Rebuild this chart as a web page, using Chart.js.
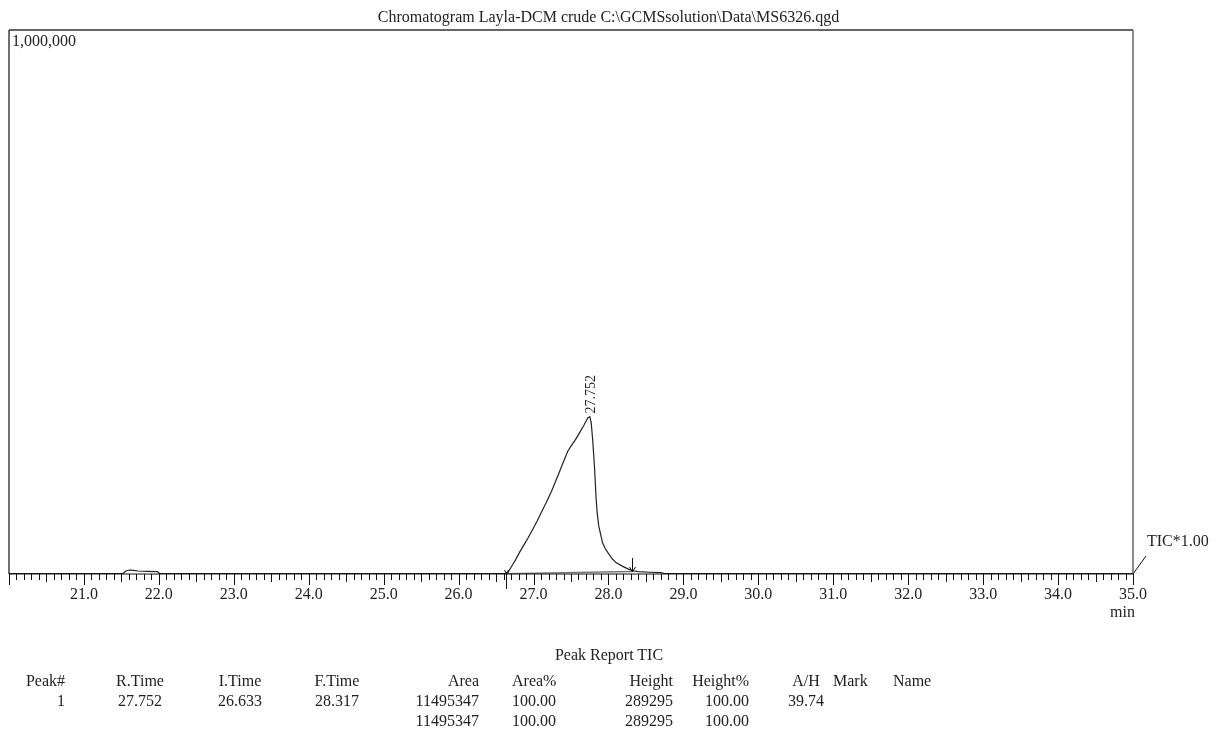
<!DOCTYPE html>
<html>
<head>
<meta charset="utf-8">
<script src="https://cdn.jsdelivr.net/npm/chart.js@4.4.1/dist/chart.umd.min.js"></script>
<style>
  body { margin: 0; background: #fff; font-family: "Liberation Serif", "Times New Roman", serif; color: #222; }
  #wrap { position: relative; width: 1217px; height: 731px; }
  #title { position: absolute; top: 8px; left: 0; width: 1217px; text-align: center; font-size: 16px; line-height: 18px; }
  .cell { position: absolute; font-size: 16px; line-height: 18px; white-space: nowrap; }
</style>
</head>
<body>
<div id="wrap">
  <canvas id="chrom"></canvas>
  <div id="title">Chromatogram Layla-DCM crude C:\GCMSsolution\Data\MS6326.qgd</div>
  <div id="report"></div>
</div>
<script>
// retention time (min) and TIC intensity
const times = [20.0, 21.0, 21.52, 21.56, 21.61, 21.66, 21.72, 21.85, 21.98, 22.01, 23.0, 24.0, 25.0, 26.0, 26.5, 26.633,
  26.66, 26.72, 26.76, 26.813, 26.87, 26.93, 26.99, 27.05, 27.11, 27.17, 27.24, 27.324, 27.39, 27.457, 27.50, 27.56,
  27.613, 27.67, 27.724, 27.752, 27.77, 27.79, 27.813, 27.836, 27.85, 27.87, 27.90, 27.92, 27.96, 27.99, 28.05, 28.10,
  28.19, 28.26, 28.32, 28.40, 28.55, 28.70, 28.75, 29.0, 30.0, 31.0, 32.0, 33.0, 34.0, 35.0];
const tic = [800, 800, 900, 5500, 7300, 6800, 5500, 5000, 4500, 800, 800, 800, 800, 800, 800, 800,
  3000, 17000, 26000, 39700, 53000, 67000, 82400, 98000, 115000, 131300, 152000, 180000, 203000, 225800, 235000, 247000,
  259500, 273000, 287000, 289295, 277800, 245000, 198000, 137000, 112000, 88400, 70000, 58000, 46000, 39700, 28000, 21000,
  14000, 9500, 6000, 4200, 3200, 2600, 900, 800, 800, 800, 800, 800, 800, 800];

// integration baseline of peak 1
const baseTimes = [26.633, 28.317];
const baseTic = [600, 4800];

const peakTime = 27.752;
const peakHeight = 289295;
const startTime = 26.633;
const endTime = 28.317;

const xTickLabels = ['21.0', '22.0', '23.0', '24.0', '25.0', '26.0', '27.0', '28.0', '29.0', '30.0', '31.0', '32.0', '33.0', '34.0', '35.0'];
const yTopLabel = '1,000,000';

// peak report
const reportHead = ['Peak#', 'R.Time', 'I.Time', 'F.Time', 'Area', 'Area%', 'Height', 'Height%', 'A/H', 'Mark', 'Name'];
const reportRow1 = ['1', '27.752', '26.633', '28.317', '11495347', '100.00', '289295', '100.00', '39.74', '', ''];
const reportRow2 = ['', '', '', '', '11495347', '100.00', '289295', '100.00', '', '', ''];

const FONT = '"Liberation Serif", "Times New Roman", serif';

// column anchor x and alignment
const cols = [
  [65, 'r'], [140, 'c'], [240, 'c'], [337, 'c'], [479, 'r'], [512, 'l'],
  [673, 'r'], [749, 'r'], [806, 'c'], [833, 'l'], [893, 'l']
];

const report = document.getElementById('report');
function addCell(txt, x, align, y) {
  if (!txt) return;
  const d = document.createElement('div');
  d.className = 'cell';
  d.textContent = txt;
  d.style.top = y + 'px';
  d.style.left = x + 'px';
  if (align === 'r') d.style.transform = 'translateX(-100%)';
  if (align === 'c') d.style.transform = 'translateX(-50%)';
  report.appendChild(d);
}
addCell('Peak Report TIC', 609, 'c', 646);
[reportHead, reportRow1, reportRow2].forEach((row, r) => {
  row.forEach((txt, i) => addCell(txt, cols[i][0], cols[i][1], 672 + r * 20));
});

// frame, axis ticks and annotations drawn through the chart scales
const gcPlugin = {
  id: 'gcFrame',
  afterDatasetsDraw(chart) {
    const c = chart.ctx;
    const a = chart.chartArea;
    const xs = chart.scales.x;
    const ys = chart.scales.y;
    c.save();

    // frame
    c.strokeStyle = '#666';
    c.lineWidth = 2;
    c.beginPath();
    c.moveTo(a.left, a.top); c.lineTo(a.right, a.top);
    c.stroke();
    c.lineWidth = 1.5;
    c.beginPath();
    c.moveTo(a.right, a.top); c.lineTo(a.right, a.bottom);
    c.stroke();
    c.strokeStyle = '#111';
    c.lineWidth = 1.2;
    c.beginPath();
    c.moveTo(a.left, a.top); c.lineTo(a.left, a.bottom);
    c.moveTo(a.left, a.bottom); c.lineTo(a.right, a.bottom);
    c.stroke();

    // ticks every 0.1 min
    c.lineWidth = 1;
    c.beginPath();
    for (let i = 200; i <= 350; i++) {
      const px = Math.round(xs.getPixelForValue(i / 10)) + 0.5;
      const len = i % 10 === 0 ? 11 : (i % 5 === 0 ? 8 : 6);
      c.moveTo(px, a.bottom); c.lineTo(px, a.bottom + len);
    }
    c.stroke();

    // tick labels
    c.fillStyle = '#222';
    c.font = '16px ' + FONT;
    c.textAlign = 'center';
    c.textBaseline = 'middle';
    xTickLabels.forEach(t => {
      c.fillText(t, xs.getPixelForValue(parseFloat(t)), a.bottom + 21);
    });
    c.textAlign = 'right';
    c.fillText('min', a.right + 2, a.bottom + 39);

    // y full scale
    c.textAlign = 'left';
    c.fillText(yTopLabel, a.left + 3, a.top + 12);

    // TIC label
    c.beginPath();
    c.moveTo(a.right, a.bottom);
    c.lineTo(a.right + 13, a.bottom - 18);
    c.stroke();
    c.fillText('TIC*1.00', a.right + 14, a.bottom - 32);

    // peak label
    const pkx = xs.getPixelForValue(peakTime);
    const pky = ys.getPixelForValue(peakHeight);
    c.save();
    c.translate(pkx + 1, pky - 3);
    c.rotate(-Math.PI / 2);
    c.font = '14px ' + FONT;
    c.textAlign = 'left';
    c.textBaseline = 'middle';
    c.fillText(String(peakTime.toFixed(3)), 0, 0);
    c.restore();

    // start marker
    const sx = Math.round(xs.getPixelForValue(startTime)) + 0.5;
    c.beginPath();
    c.moveTo(sx, a.bottom - 2); c.lineTo(sx, a.bottom + 15);
    c.moveTo(sx - 2, a.bottom - 4); c.lineTo(sx, a.bottom); c.lineTo(sx + 2, a.bottom - 4);
    c.stroke();

    // end arrow
    const ex = Math.round(xs.getPixelForValue(endTime)) + 0.5;
    c.beginPath();
    c.moveTo(ex, a.bottom - 16); c.lineTo(ex, a.bottom - 2);
    c.moveTo(ex - 3, a.bottom - 7); c.lineTo(ex, a.bottom - 2); c.lineTo(ex + 3, a.bottom - 7);
    c.stroke();

    c.restore();
  }
};

new Chart(document.getElementById('chrom'), {
  type: 'line',
  data: {
    datasets: [{
      label: 'TIC',
      data: times.map((t, i) => ({ x: t, y: tic[i] })),
      borderColor: '#222',
      borderWidth: 1.2,
      pointRadius: 0,
      tension: 0
    }, {
      label: 'Baseline',
      data: baseTimes.map((t, i) => ({ x: t, y: baseTic[i] })),
      borderColor: '#777',
      borderWidth: 1.5,
      pointRadius: 0
    }]
  },
  options: {
    responsive: true,
    maintainAspectRatio: false,
    animation: false,
    layout: { padding: { left: 9, top: 30, right: 84, bottom: 157 } },
    scales: {
      x: { type: 'linear', min: 20, max: 35, display: false },
      y: { min: 0, max: 1000000, display: false }
    },
    plugins: {
      legend: { display: false },
      tooltip: { enabled: false }
    }
  },
  plugins: [gcPlugin]
});
</script>
</body>
</html>
